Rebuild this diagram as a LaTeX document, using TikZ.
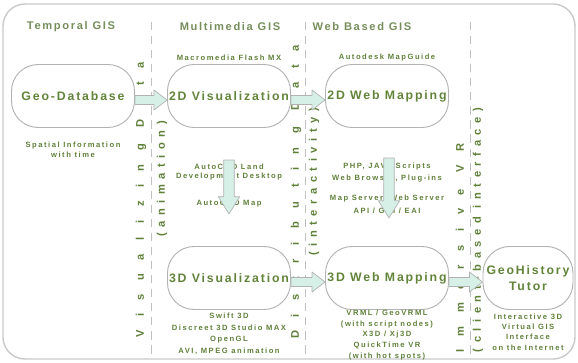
\documentclass[tikz,border=0pt]{standalone}
\usepackage{fontspec}
\setmainfont{Liberation Sans}
\newfontfamily\headfont[LetterSpace=15]{Liberation Sans}
\newfontfamily\toolfont[LetterSpace=20]{Liberation Sans}
\newfontfamily\flowfont[LetterSpace=122]{Liberation Sans}
\newfontfamily\notefont[LetterSpace=50]{Liberation Sans}
\usetikzlibrary{calc}
\definecolor{headgreen}{RGB}{118,142,92}
\definecolor{boxgreen}{RGB}{98,132,58}
\definecolor{labelgreen}{RGB}{96,128,58}
\definecolor{boxgray}{RGB}{178,178,178}
\definecolor{mint}{RGB}{214,240,232}

\begin{document}
\begin{tikzpicture}[x=0.03cm,y=-0.03cm]
			\tikzset{gisbox/.style = {draw=boxgray, line width=0.8pt, rounded corners=0.8cm, inner sep=0pt, minimum width=3.69cm, minimum height=1.89cm, align=center, text=boxgreen, font=\headfont\bfseries\fontsize{10.5}{13}\selectfont}}
			\tikzset{header/.style = {text=headgreen, font=\headfont\bfseries\fontsize{9.5}{11}\selectfont}}
			\tikzset{tool/.style = {align=center, inner sep=0pt, text=labelgreen, font=\toolfont\bfseries\fontsize{6.5}{9.8}\selectfont}}
			\tikzset{flow/.style = {rotate=90, inner sep=0pt, text=labelgreen, font=\flowfont\bfseries\fontsize{9.5}{10}\selectfont}}
			\tikzset{flownote/.style = {rotate=90, inner sep=0pt, text=labelgreen, font=\notefont\bfseries\fontsize{9.5}{10}\selectfont}}
			\tikzset{divider/.style = {draw=boxgray!80, line width=0.8pt, dash pattern=on 7pt off 5pt}}
			\tikzset{fatarrow/.style n args = {3}{draw=boxgray, fill=mint, line width=0.6pt, line join=round, to path={
				($(\tikztostart)!#1!90:(\tikztotarget)$)
				-- ($(\tikztotarget)!#3!(\tikztostart)!#1!90:(\tikztotarget)$)
				-- ($(\tikztotarget)!#3!(\tikztostart)!#2!90:(\tikztotarget)$)
				-- (\tikztotarget)
				-- ($(\tikztotarget)!#3!(\tikztostart)!#2!-90:(\tikztotarget)$)
				-- ($(\tikztotarget)!#3!(\tikztostart)!#1!-90:(\tikztotarget)$)
				-- ($(\tikztostart)!#1!-90:(\tikztotarget)$) -- cycle}}}
			\tikzset{hflow/.style = {fatarrow={0.135cm}{0.3cm}{0.39cm}}}
			\tikzset{vflow/.style = {fatarrow={0.16cm}{0.32cm}{0.52cm}}}
			\useasboundingbox (0,0) rectangle (578,363);
			\draw[draw=boxgray!70, line width=1.2pt, rounded corners=0.66cm] (3,4) rectangle (575,359);
			% dividers
			\draw[divider] (151,22) -- (151,356);
			\draw[divider] (305,22) -- (305,356);
			\draw[divider] (470,22) -- (470,356);
			% headers
			\node[header] (temporal) at (71,27) {Temporal GIS};
			\node[header] (multimedia) at (230,27) {Multimedia GIS};
			\node[header] (webgis) at (362,27) {Web Based GIS};
			% stages
			\node[gisbox] (geodb) at (73,96) {Geo-Database};
			\node[gisbox] (vis2d) at (229,96) {2D Visualization};
			\node[gisbox] (web2d) at (387,96) {2D Web Mapping};
			\node[gisbox] (vis3d) at (229,278) {3D Visualization};
			\node[gisbox] (web3d) at (387,278) {3D Web Mapping};
			\node[gisbox, minimum width=2.7cm] (tutor) at (528,278) {GeoHistory\\Tutor};
			% tools
			\node[tool] (flash) at (229,58) {Macromedia Flash MX};
			\node[tool] (mapguide) at (387,58) {Autodesk MapGuide};
			\node[tool] (spatial) at (73,150) {Spatial Information\\[-1.5pt]with time};
			\node[tool] (acadland) at (229,172) {AutoCAD Land\\[-1.5pt]Development Desktop};
			\node[tool] (acadmap) at (229,204) {AutoCAD Map};
			\node[tool] (scripts) at (387,172.5) {PHP, JAVA Scripts\\[1.2pt]Web Browser, Plug-ins};
			\node[tool] (servers) at (387,204.5) {Map Server, Web Server\\[1.2pt]API / GUI / EAI};
			\node[tool] (swift) at (229,334) {Swift 3D\\Discreet 3D Studio MAX\\OpenGL\\AVI, MPEG animation};
			\node[tool] (vrml) at (387,335) {VRML / GeoVRML\\[-0.8pt](with script nodes)\\[-0.8pt]X3D / Xj3D\\[-0.8pt]QuickTime VR\\[-0.8pt](with hot spots)};
			\node[tool] (tutornote) at (528,332) {Interactive 3D\\[-1pt]Virtual GIS\\[-1pt]Interface\\[-1pt]on the Internet};
			% transitions
			\node[flow] (visdata) at (141,200) {Visualizing Data};
			\node[flownote] (anim) at (162,179) {(animation)};
			\node[flow] (distdata) at (296,192) {Distributing Data};
			\node[flownote] (interact) at (314,182) {(interactivity)};
			\node[flow] (immersive) at (460,248) {Immersive VR};
			\node[flownote] (client) at (478,230) {(client-based interface)};
			% arrows
			\coordinate (acadtop) at (229,160);
			\coordinate (acadtip) at (229,214);
			\coordinate (webtop) at (389,158);
			\coordinate (webtip) at (389,218);
			\draw[hflow] ([yshift=-0.12cm]geodb.east) to ([yshift=-0.12cm]vis2d.west);
			\draw[hflow] ([yshift=-0.12cm]vis2d.east) to ([yshift=-0.12cm]web2d.west);
			\draw[hflow] ([yshift=-0.12cm]vis3d.east) to ([yshift=-0.12cm]web3d.west);
			\draw[hflow] ([yshift=-0.12cm]web3d.east) to ([yshift=-0.12cm]tutor.west);
			\draw[vflow] (acadtop) to (acadtip);
			\draw[vflow] (webtop) to (webtip);
		\end{tikzpicture}
\end{document}
